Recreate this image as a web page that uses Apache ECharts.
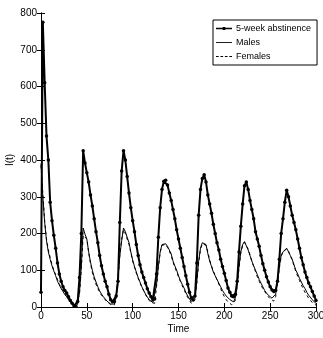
<!DOCTYPE html>
<html>
<head>
<meta charset="utf-8">
<script src="https://cdn.jsdelivr.net/npm/echarts@6/dist/echarts.min.js"></script>
<style>
html,body{margin:0;padding:0;background:#fff;}
#c{width:323px;height:338px;}
</style>
</head>
<body>
<div id="c"></div>
<script>
// time grid (step 2)
var timeStep = 2;
var timeCount = 151;

var abstinence = [
  40,775,610,465,400,285,235,195,160,120,
  90,70,55,45,38,28,18,10,3,2,
  15,80,200,425,392,365,340,305,275,240,
  205,175,140,112,90,70,55,35,20,14,
  15,30,70,230,370,425,400,355,310,270,
  235,205,170,140,115,95,80,65,50,38,
  28,20,22,90,190,270,320,342,345,332,
  310,290,265,240,210,185,160,135,110,85,
  62,40,24,19,30,120,250,320,350,360,
  340,305,280,255,225,200,175,155,130,110,
  92,72,52,40,30,28,35,70,150,220,
  280,330,340,320,290,265,240,205,185,165,
  140,118,100,82,68,55,46,42,45,70,
  130,200,240,285,318,300,275,250,230,210,
  185,160,135,115,95,80,65,55,42,30,
  18
];

var males = [
  390,300,230,180,150,130,112,98,85,70,
  60,50,42,34,28,20,14,8,4,2,
  8,40,110,215,198,185,150,122,100,82,
  68,55,44,35,28,22,16,12,8,6,
  8,30,80,140,180,215,205,190,175,150,
  128,110,95,80,68,55,45,35,27,20,
  15,12,14,60,110,150,170,175,172,165,
  155,145,125,112,100,85,72,62,52,40,
  30,22,15,14,25,70,125,160,175,180,
  170,145,125,110,95,85,75,65,55,45,
  37,30,26,20,15,14,25,60,110,150,
  170,178,175,155,140,125,112,100,88,75,
  65,55,45,38,32,27,24,24,35,70,
  110,140,150,155,160,150,140,130,115,100,
  90,78,68,58,50,40,32,28,20,14,
  10
];

var females = [
  385,310,235,185,155,135,115,100,88,75,
  62,52,44,36,28,22,15,9,5,3,
  5,35,105,195,200,185,148,118,94,76,
  62,50,40,32,26,20,14,10,7,5,
  6,25,75,140,185,210,200,185,170,148,
  125,108,92,78,66,54,44,34,25,18,
  12,8,10,55,105,148,168,172,170,162,
  152,140,122,108,96,82,70,58,48,36,
  26,18,10,8,20,65,120,158,172,176,
  168,150,128,112,98,86,74,62,50,38,
  28,20,14,10,6,5,18,55,105,148,
  168,176,172,158,142,125,110,96,82,70,
  60,50,42,35,28,22,18,16,28,65,
  105,138,150,155,158,152,140,128,112,96,
  84,72,60,50,40,32,24,18,12,8,
  5
];

var xTicks = [0,50,100,150,200,250,300];
var yTicks = [0,100,200,300,400,500,600,700,800];
var seriesNames = ['5-week abstinence','Males','Females'];

var time = [];
for (var i = 0; i < timeCount; i++) time.push(i * timeStep);
function pairs(arr){ return arr.map(function(v,i){ return [time[i], v]; }); }

var FONT = "'Liberation Sans Narrow','Arial Narrow','Liberation Sans',Arial,sans-serif";
var axisCommon = {
  axisLine:{show:true,lineStyle:{color:'#000',width:1}},
  axisTick:{show:true,inside:true,length:4,lineStyle:{color:'#000'}},
  splitLine:{show:false}
};

var chart = echarts.init(document.getElementById('c'), null, {renderer:'canvas'});
chart.setOption({
  animation:false,
  backgroundColor:'#fff',
  textStyle:{fontFamily:FONT,color:'#000'},
  grid:{left:41,right:7,top:13,bottom:31,containLabel:false,outerBoundsMode:'none'},
  legend:{
    data:[
      {name:seriesNames[0],icon:'path://M0,2h18v1.6h-18z M7.5,1.2h3v3.2h-3z'},
      {name:seriesNames[1],icon:'path://M0,0h18v1h-18z'},
      {name:seriesNames[2],icon:'path://M0,0h3v1h-3z M5,0h3v1h-3z M10,0h3v1h-3z M15,0h3v1h-3z'}
    ],
    orient:'vertical',
    left:213, top:20,
    backgroundColor:'#fff',
    borderColor:'#000', borderWidth:1, borderRadius:0,
    padding:[4,6,4,3],
    itemGap:5, itemWidth:16, itemHeight:8,
    textStyle:{fontFamily:FONT,fontSize:9,color:'#000',padding:[0,0,0,-1]}
  },
  xAxis:[
    Object.assign({type:'value',min:xTicks[0],max:xTicks[xTicks.length-1],interval:50,position:'bottom',
      name:'Time',nameLocation:'middle',nameGap:17,nameMoveOverlap:false,
      nameTextStyle:{fontFamily:FONT,fontSize:10,color:'#000'},
      axisLabel:{fontFamily:FONT,fontSize:10,color:'#000',margin:4}}, axisCommon),
    Object.assign({type:'value',min:xTicks[0],max:xTicks[xTicks.length-1],interval:50,position:'top',
      axisLabel:{show:false}}, axisCommon)
  ],
  yAxis:[
    Object.assign({type:'value',min:yTicks[0],max:yTicks[yTicks.length-1],interval:100,position:'left',
      name:'I(t)',nameLocation:'middle',nameGap:26,nameRotate:90,nameMoveOverlap:false,
      nameTextStyle:{fontFamily:FONT,fontSize:10,color:'#000'},
      axisLabel:{fontFamily:FONT,fontSize:10,color:'#000',margin:4}}, axisCommon),
    Object.assign({type:'value',min:yTicks[0],max:yTicks[yTicks.length-1],interval:100,position:'right',
      axisLabel:{show:false}}, axisCommon)
  ],
  series:[
    {name:seriesNames[0],type:'line',data:pairs(abstinence),symbol:'circle',symbolSize:3.5,showSymbol:true,
      itemStyle:{color:'#000'},lineStyle:{color:'#000',width:2},z:3},
    {name:seriesNames[1],type:'line',data:pairs(males),symbol:'none',
      itemStyle:{color:'#000'},lineStyle:{color:'#000',width:1}},
    {name:seriesNames[2],type:'line',data:pairs(females),symbol:'none',
      itemStyle:{color:'#000'},lineStyle:{color:'#000',width:1,type:[3,3]}}
  ]
});
</script>
</body>
</html>
